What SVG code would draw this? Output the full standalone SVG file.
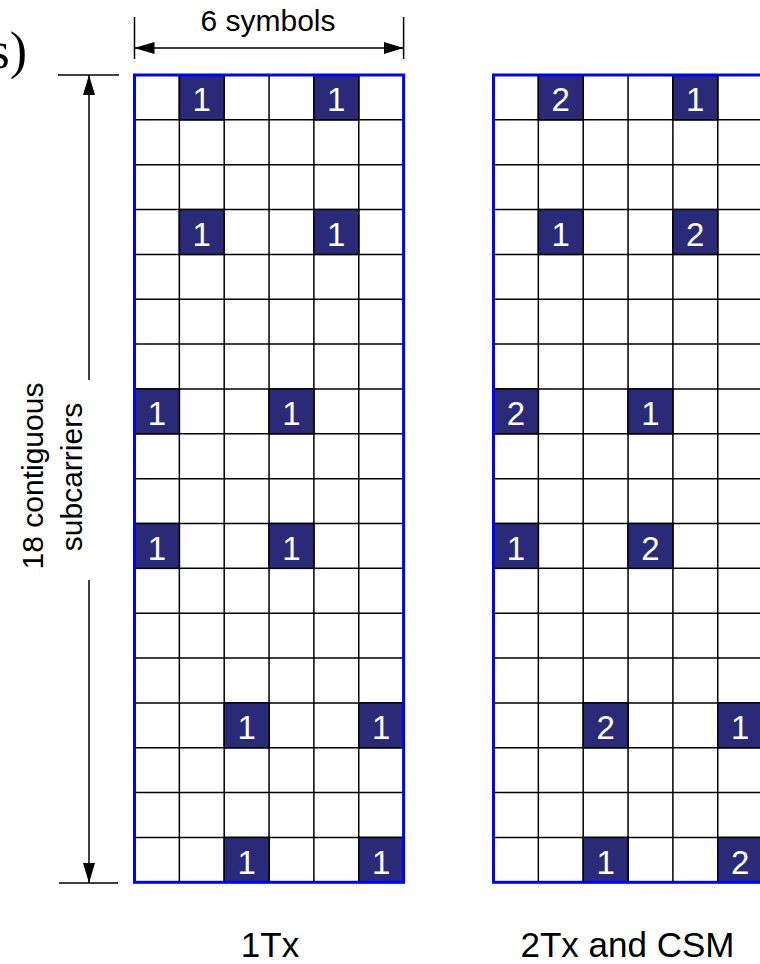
<svg xmlns="http://www.w3.org/2000/svg" width="760" height="964" viewBox="0 0 760 964">
<defs>
<style>
.txt{font-family:"Liberation Sans",Arial,sans-serif;fill:#000}
.pil{fill:#2a2a78;stroke:#000;stroke-width:1.5}
.num{font-family:"Liberation Sans",Arial,sans-serif;font-size:33px;fill:#fff;text-anchor:middle}
.border{fill:none;stroke:#0000ff;stroke-width:3}
.dim{stroke:#000;stroke-width:1.5;fill:none}
</style>
<marker id="ah" viewBox="0 0 20 12" refX="20" refY="6" markerWidth="20" markerHeight="12" markerUnits="userSpaceOnUse" orient="auto-start-reverse">
<path d="M0,0 L20,6 L0,12 Z" fill="#000"/>
</marker>
</defs>
<rect width="760" height="964" fill="#fff"/>

<text x="27" y="68" font-family="'Liberation Serif','Times New Roman',serif" font-size="52" text-anchor="end">s)</text>

<g id="grid1Tx">
<rect x="134.5" y="75" width="269.1" height="807.3" fill="#fff"/>
<path class="dim" d="M179.35,75 V882.3 M224.2,75 V882.3 M269.05,75 V882.3 M313.9,75 V882.3 M358.75,75 V882.3"/>
<path class="dim" d="M134.5,119.85H403.6M134.5,164.7H403.6M134.5,209.55H403.6M134.5,254.4H403.6M134.5,299.25H403.6M134.5,344.1H403.6M134.5,388.95H403.6M134.5,433.8H403.6M134.5,478.65H403.6M134.5,523.5H403.6M134.5,568.35H403.6M134.5,613.2H403.6M134.5,658.05H403.6M134.5,702.9H403.6M134.5,747.75H403.6M134.5,792.6H403.6M134.5,837.45H403.6"/>
<rect class="pil" x="179.35" y="75" width="44.85" height="44.85"/><text class="num" x="201.8" y="111">1</text>
<rect class="pil" x="313.9" y="75" width="44.85" height="44.85"/><text class="num" x="336.3" y="111">1</text>
<rect class="pil" x="179.35" y="209.55" width="44.85" height="44.85"/><text class="num" x="201.8" y="245.5">1</text>
<rect class="pil" x="313.9" y="209.55" width="44.85" height="44.85"/><text class="num" x="336.3" y="245.5">1</text>
<rect class="pil" x="134.5" y="388.95" width="44.85" height="44.85"/><text class="num" x="156.9" y="425">1</text>
<rect class="pil" x="269.05" y="388.95" width="44.85" height="44.85"/><text class="num" x="291.5" y="425">1</text>
<rect class="pil" x="134.5" y="523.5" width="44.85" height="44.85"/><text class="num" x="156.9" y="559.5">1</text>
<rect class="pil" x="269.05" y="523.5" width="44.85" height="44.85"/><text class="num" x="291.5" y="559.5">1</text>
<rect class="pil" x="224.2" y="702.9" width="44.85" height="44.85"/><text class="num" x="246.6" y="739">1</text>
<rect class="pil" x="358.75" y="702.9" width="44.85" height="44.85"/><text class="num" x="381.2" y="739">1</text>
<rect class="pil" x="224.2" y="837.45" width="44.85" height="44.85"/><text class="num" x="246.6" y="873.5">1</text>
<rect class="pil" x="358.75" y="837.45" width="44.85" height="44.85"/><text class="num" x="381.2" y="873.5">1</text>
<rect class="border" x="134.5" y="75" width="269.1" height="807.3"/>
</g>

<g id="grid2Tx">
<rect x="493.5" y="75" width="269.1" height="807.3" fill="#fff"/>
<path class="dim" d="M538.35,75 V882.3 M583.2,75 V882.3 M628.05,75 V882.3 M672.9,75 V882.3 M717.75,75 V882.3"/>
<path class="dim" d="M493.5,119.85H762M493.5,164.7H762M493.5,209.55H762M493.5,254.4H762M493.5,299.25H762M493.5,344.1H762M493.5,388.95H762M493.5,433.8H762M493.5,478.65H762M493.5,523.5H762M493.5,568.35H762M493.5,613.2H762M493.5,658.05H762M493.5,702.9H762M493.5,747.75H762M493.5,792.6H762M493.5,837.45H762"/>
<rect class="pil" x="538.35" y="75" width="44.85" height="44.85"/><text class="num" x="560.8" y="111">2</text>
<rect class="pil" x="672.9" y="75" width="44.85" height="44.85"/><text class="num" x="695.3" y="111">1</text>
<rect class="pil" x="538.35" y="209.55" width="44.85" height="44.85"/><text class="num" x="560.8" y="245.5">1</text>
<rect class="pil" x="672.9" y="209.55" width="44.85" height="44.85"/><text class="num" x="695.3" y="245.5">2</text>
<rect class="pil" x="493.5" y="388.95" width="44.85" height="44.85"/><text class="num" x="515.9" y="425">2</text>
<rect class="pil" x="628.05" y="388.95" width="44.85" height="44.85"/><text class="num" x="650.5" y="425">1</text>
<rect class="pil" x="493.5" y="523.5" width="44.85" height="44.85"/><text class="num" x="515.9" y="559.5">1</text>
<rect class="pil" x="628.05" y="523.5" width="44.85" height="44.85"/><text class="num" x="650.5" y="559.5">2</text>
<rect class="pil" x="583.2" y="702.9" width="44.85" height="44.85"/><text class="num" x="605.6" y="739">2</text>
<rect class="pil" x="717.75" y="702.9" width="44.85" height="44.85"/><text class="num" x="740.2" y="739">1</text>
<rect class="pil" x="583.2" y="837.45" width="44.85" height="44.85"/><text class="num" x="605.6" y="873.5">1</text>
<rect class="pil" x="717.75" y="837.45" width="44.85" height="44.85"/><text class="num" x="740.2" y="873.5">2</text>
<rect class="border" x="493.5" y="75" width="269.1" height="807.3"/>
</g>

<g id="connectors">
<path class="dim" d="M134.5,17 V59 M403.6,17 V59"/>
<line class="dim" x1="134.5" y1="48" x2="403.6" y2="48" marker-start="url(#ah)" marker-end="url(#ah)"/>
<path class="dim" d="M58,75 H119 M59,883 H118"/>
<line class="dim" x1="89" y1="380" x2="89" y2="75" marker-end="url(#ah)"/>
<line class="dim" x1="89" y1="580" x2="89" y2="883" marker-end="url(#ah)"/>
</g>

<g id="labels">
<text class="txt" x="268" y="31" font-size="30" text-anchor="middle">6 symbols</text>
<text class="txt" font-size="30" text-anchor="middle" transform="translate(43,476) rotate(-90)">18 contiguous</text>
<text class="txt" font-size="30" text-anchor="middle" transform="translate(82,477) rotate(-90)">subcarriers</text>
<text class="txt" x="270" y="957" font-size="35" text-anchor="middle">1Tx</text>
<text class="txt" x="627.5" y="957" font-size="35" text-anchor="middle">2Tx and CSM</text>
</g>
</svg>
